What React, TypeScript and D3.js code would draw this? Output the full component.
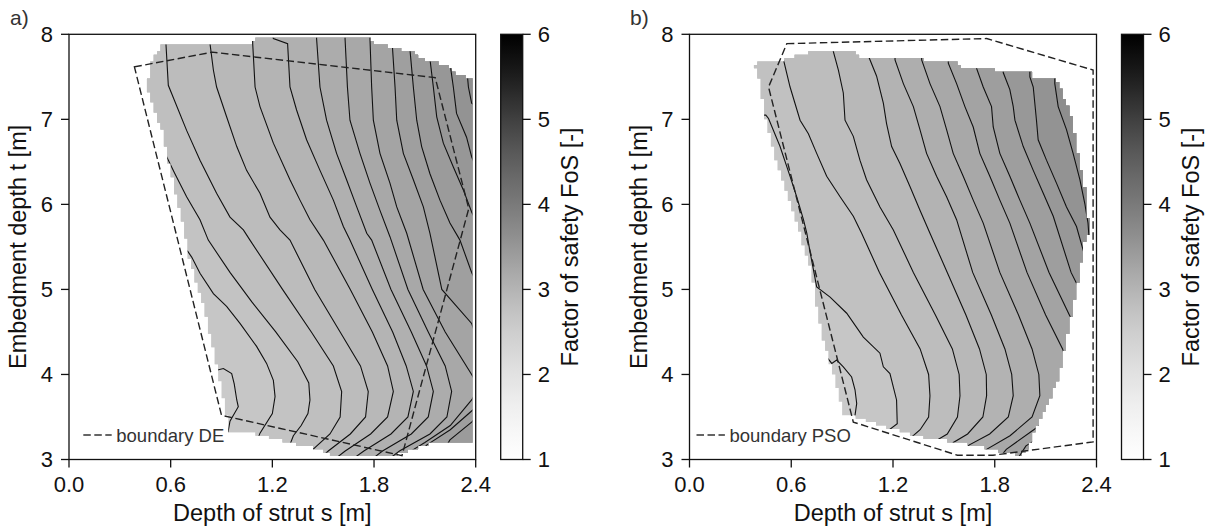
import React from 'react';
import * as d3 from 'd3';

type P = [number, number];

const FONT = "'Liberation Sans', Arial, Helvetica, sans-serif";
const W = 1213;
const H = 531;
const Y_TOP = 34.3;
const Y_BOT = 459.5;

const S_TICKS = [0.0, 0.6, 1.2, 1.8, 2.4];
const T_TICKS = [3, 4, 5, 6, 7, 8];
const CB_TICKS = [1, 2, 3, 4, 5, 6];

// ---------- panel a (DE) ----------
const regionA: P[] = [
  [0.556, 7.89], [1.088, 7.89], [1.1, 7.95], [1.776, 7.95], [1.8, 7.9], [1.85, 7.87], [1.95, 7.82],
  [2.03, 7.78], [2.07, 7.71], [2.17, 7.66], [2.24, 7.62], [2.29, 7.54], [2.376, 7.48],
  [2.376, 3.21], [2.17, 3.21], [2.09, 3.17], [1.99, 3.09], [1.914, 3.05], [1.56, 3.05], [1.5, 3.11],
  [1.363, 3.17], [1.245, 3.23], [1.108, 3.3], [0.95, 3.34],
  [0.921, 3.62], [0.881, 4.01], [0.842, 4.4], [0.793, 4.8], [0.735, 5.19], [0.71, 5.38], [0.68, 5.7],
  [0.645, 6.0], [0.6, 6.4], [0.55, 6.87], [0.49, 7.19], [0.464, 7.38], [0.48, 7.62], [0.52, 7.78],
];
const boundaryDE: P[] = [
  [0.386, 7.617], [0.845, 7.79], [2.161, 7.49], [2.359, 5.95], [1.965, 3.045], [0.9, 3.52],
];
const levelsA = [2.62, 2.69, 2.76, 2.83, 2.9, 2.97, 3.04, 3.11, 3.18, 3.25, 3.32, 3.39, 3.46, 3.53, 3.6];
const linesA: P[][] = [
  [[-0.5, 8.1], [-0.5, 4.05], [0.871, 4.05], [0.911, 4.07], [0.96, 4.01], [0.975, 3.89], [0.99, 3.7], [0.999, 3.62], [0.97, 3.52], [0.95, 3.45], [0.9, 2.9]],
  [[-0.5, 8.1], [-0.5, 5.45], [0.7, 5.45], [0.724, 5.38], [0.773, 5.19], [0.852, 4.95], [0.93, 4.8], [1.009, 4.6], [1.107, 4.33], [1.166, 4.13], [1.206, 3.93], [1.216, 3.74], [1.2, 3.54], [1.127, 3.31], [1.05, 2.9]],
  [[-0.5, 8.1], [-0.5, 6.7], [0.54, 6.7], [0.557, 6.64], [0.625, 6.36], [0.694, 6.09], [0.773, 5.82], [0.822, 5.58], [0.95, 5.2], [1.08, 4.85], [1.22, 4.5], [1.35, 4.15], [1.415, 3.9], [1.422, 3.7], [1.41, 3.54], [1.37, 3.4], [1.324, 3.28], [1.25, 2.9]],
  [[0.572, 8.1], [0.572, 7.89], [0.586, 7.4], [0.694, 6.87], [0.773, 6.52], [0.871, 6.13], [0.95, 5.85], [1.029, 5.7], [1.068, 5.58], [1.26, 5.0], [1.43, 4.5], [1.56, 4.1], [1.609, 3.8], [1.6, 3.5], [1.54, 3.3], [1.44, 3.12], [1.35, 2.9]],
  [[0.832, 8.1], [0.832, 7.89], [0.852, 7.58], [0.871, 7.38], [0.93, 7.03], [0.99, 6.68], [1.048, 6.4], [1.127, 6.13], [1.186, 5.85], [1.245, 5.7], [1.304, 5.58], [1.45, 5.0], [1.6, 4.5], [1.72, 4.1], [1.766, 3.8], [1.75, 3.5], [1.66, 3.3], [1.53, 3.1], [1.42, 2.9]],
  [[1.084, 8.1], [1.084, 7.89], [1.098, 7.38], [1.127, 7.15], [1.206, 6.72], [1.304, 6.29], [1.363, 6.05], [1.422, 5.82], [1.501, 5.58], [1.66, 5.0], [1.79, 4.5], [1.88, 4.1], [1.914, 3.8], [1.88, 3.5], [1.78, 3.3], [1.63, 3.1], [1.5, 2.9]],
  [[1.19, 8.1], [1.206, 7.95], [1.29, 7.89], [1.304, 7.38], [1.343, 7.11], [1.402, 6.76], [1.481, 6.4], [1.56, 6.05], [1.619, 5.74], [1.658, 5.58], [1.79, 5.0], [1.91, 4.5], [1.99, 4.1], [2.032, 3.8], [2.0, 3.5], [1.9, 3.3], [1.74, 3.1], [1.6, 2.9]],
  [[1.461, 8.1], [1.461, 7.95], [1.481, 7.38], [1.52, 6.99], [1.579, 6.6], [1.638, 6.29], [1.698, 5.97], [1.757, 5.66], [1.786, 5.58], [1.9, 5.0], [2.02, 4.5], [2.11, 4.1], [2.15, 3.8], [2.12, 3.5], [2.02, 3.3], [1.85, 3.1], [1.72, 2.9]],
  [[1.629, 8.1], [1.629, 7.95], [1.643, 7.38], [1.658, 6.99], [1.717, 6.6], [1.776, 6.25], [1.835, 5.93], [1.894, 5.62], [2.0, 5.0], [2.12, 4.5], [2.22, 4.1], [2.258, 3.8], [2.23, 3.5], [2.13, 3.3], [1.95, 3.1], [1.82, 2.9]],
  [[1.776, 8.1], [1.776, 7.95], [1.786, 7.38], [1.796, 6.99], [1.835, 6.6], [1.894, 6.25], [1.934, 5.97], [1.993, 5.66], [2.09, 5.0], [2.22, 4.5], [2.376, 4.0], [2.42, 3.85], [2.376, 3.7], [2.25, 3.4], [2.1, 3.2], [2.01, 3.09], [1.9, 2.9]],
  [[1.908, 8.1], [1.908, 7.87], [1.924, 7.38], [1.934, 6.99], [1.973, 6.6], [2.032, 6.29], [2.091, 5.97], [2.13, 5.66], [2.2, 5.0], [2.376, 4.6], [2.48, 4.0], [2.45, 3.7], [2.376, 3.57], [2.25, 3.35], [2.11, 3.17], [2.0, 2.9]],
  [[2.012, 8.1], [2.012, 7.82], [2.032, 7.38], [2.052, 6.99], [2.081, 6.68], [2.13, 6.36], [2.189, 6.05], [2.248, 5.78], [2.307, 5.58], [2.376, 5.2], [2.55, 4.5], [2.55, 3.8], [2.376, 3.44], [2.248, 3.23], [2.15, 2.9]],
  [[2.13, 8.1], [2.13, 7.71], [2.15, 7.38], [2.17, 7.03], [2.209, 6.72], [2.268, 6.44], [2.327, 6.17], [2.376, 5.91], [2.6, 5.0], [2.64, 4.0], [2.62, 3.6], [2.6, 2.9]],
  [[2.248, 8.1], [2.248, 7.66], [2.268, 7.38], [2.287, 7.07], [2.346, 6.79], [2.376, 6.56], [2.7, 5.0], [2.75, 3.5], [2.7, 2.9]],
  [[2.347, 8.1], [2.347, 7.6], [2.357, 7.38], [2.376, 7.19], [2.85, 6.5], [2.85, 2.9]],
];

// ---------- panel b (PSO) ----------
const regionB: P[] = [
  [0.388, 7.62], [0.4, 7.66], [0.55, 7.66], [0.58, 7.72], [0.75, 7.8], [0.966, 7.8], [1.0, 7.74],
  [1.123, 7.7], [1.379, 7.7], [1.4, 7.66], [1.575, 7.66], [1.6, 7.6], [1.79, 7.6], [1.81, 7.55],
  [2.007, 7.55], [2.03, 7.5], [2.154, 7.5], [2.18, 7.4], [2.253, 7.03], [2.29, 6.6], [2.331, 6.21],
  [2.35, 5.82], [2.35, 5.66], [2.322, 5.5], [2.302, 5.19], [2.262, 4.8], [2.223, 4.4], [2.184, 4.01],
  [2.125, 3.7], [2.066, 3.46], [2.027, 3.3], [1.988, 3.11], [1.95, 3.05], [1.909, 3.07], [1.79, 3.11],
  [1.673, 3.17], [1.575, 3.21], [1.457, 3.23], [1.359, 3.27], [1.241, 3.34], [1.123, 3.4],
  [0.986, 3.5], [0.907, 3.54], [0.888, 3.7], [0.848, 4.01], [0.79, 4.4], [0.75, 4.8], [0.721, 5.19],
  [0.664, 5.58], [0.6, 6.0], [0.516, 6.49], [0.446, 7.05], [0.41, 7.49],
];
const boundaryPSO: P[] = [
  [0.574, 7.89], [1.752, 7.95], [2.38, 7.58], [2.38, 3.207], [1.79, 3.05], [1.58, 3.05], [0.966, 3.44], [0.466, 7.38],
];
const levelsB = [2.62, 2.71, 2.8, 2.89, 2.98, 3.07, 3.16, 3.25, 3.34, 3.43, 3.52, 3.61];
const linesB: P[][] = [
  [[-0.5, 8.1], [-0.5, 4.23], [0.799, 4.23], [0.839, 4.13], [0.868, 4.17], [0.907, 4.09], [0.956, 3.97], [0.976, 3.82], [0.986, 3.66], [0.976, 3.52], [0.95, 3.4], [0.9, 2.9]],
  [[-0.5, 8.1], [-0.5, 7.05], [0.45, 7.05], [0.466, 7.01], [0.534, 6.68], [0.593, 6.33], [0.632, 6.09], [0.672, 5.82], [0.692, 5.66], [0.71, 5.45], [0.75, 5.03], [0.829, 4.91], [0.927, 4.72], [1.025, 4.44], [1.123, 4.25], [1.143, 4.09], [1.182, 4.01], [1.202, 3.85], [1.221, 3.7], [1.225, 3.42], [1.152, 3.31], [1.05, 2.9]],
  [[0.553, 8.1], [0.553, 7.71], [0.593, 7.38], [0.652, 6.99], [0.701, 6.83], [0.75, 6.6], [0.809, 6.33], [0.888, 6.09], [0.966, 5.86], [1.015, 5.66], [1.12, 5.2], [1.25, 4.7], [1.36, 4.3], [1.41, 4.0], [1.418, 3.75], [1.41, 3.5], [1.36, 3.35], [1.313, 3.27], [1.25, 2.9]],
  [[0.848, 8.1], [0.848, 7.8], [0.878, 7.58], [0.907, 7.31], [0.917, 6.99], [0.966, 6.8], [1.005, 6.52], [1.044, 6.29], [1.123, 5.97], [1.202, 5.7], [1.32, 5.2], [1.45, 4.7], [1.55, 4.3], [1.59, 4.0], [1.595, 3.75], [1.58, 3.5], [1.52, 3.3], [1.452, 3.22], [1.38, 2.9]],
  [[1.054, 8.1], [1.054, 7.75], [1.103, 7.51], [1.143, 7.19], [1.162, 6.95], [1.192, 6.68], [1.241, 6.48], [1.3, 6.21], [1.359, 5.93], [1.418, 5.66], [1.52, 5.2], [1.63, 4.7], [1.71, 4.3], [1.75, 4.0], [1.752, 3.75], [1.73, 3.5], [1.64, 3.3], [1.556, 3.2], [1.48, 2.9]],
  [[1.212, 8.1], [1.212, 7.7], [1.261, 7.42], [1.32, 7.15], [1.359, 6.88], [1.398, 6.6], [1.457, 6.33], [1.516, 6.09], [1.575, 5.82], [1.67, 5.2], [1.78, 4.7], [1.86, 4.3], [1.9, 4.0], [1.909, 3.75], [1.88, 3.5], [1.77, 3.3], [1.648, 3.17], [1.57, 2.9]],
  [[1.369, 8.1], [1.369, 7.7], [1.418, 7.42], [1.477, 7.15], [1.516, 6.88], [1.555, 6.6], [1.614, 6.33], [1.673, 6.05], [1.732, 5.78], [1.83, 5.2], [1.94, 4.7], [2.02, 4.3], [2.06, 4.0], [2.066, 3.75], [2.02, 3.5], [1.89, 3.28], [1.752, 3.12], [1.67, 2.9]],
  [[1.526, 8.1], [1.526, 7.66], [1.575, 7.42], [1.624, 7.15], [1.673, 6.91], [1.712, 6.6], [1.771, 6.33], [1.83, 6.05], [1.889, 5.78], [1.99, 5.2], [2.1, 4.7], [2.2, 4.3], [2.26, 3.9], [2.2, 3.6], [2.03, 3.35], [1.868, 3.12], [1.78, 2.9]],
  [[1.693, 8.1], [1.693, 7.6], [1.732, 7.38], [1.781, 7.15], [1.791, 6.91], [1.83, 6.6], [1.889, 6.33], [1.948, 6.05], [2.007, 5.78], [2.12, 5.2], [2.24, 4.7], [2.34, 4.3], [2.4, 3.9], [2.32, 3.6], [2.14, 3.35], [1.984, 3.16], [1.9, 2.9]],
  [[1.85, 8.1], [1.85, 7.55], [1.889, 7.35], [1.909, 7.15], [1.919, 6.99], [1.968, 6.68], [2.027, 6.4], [2.086, 6.13], [2.145, 5.86], [2.25, 5.2], [2.4, 4.6], [2.5, 4.0], [2.45, 3.6], [2.25, 3.35], [2.04, 3.2], [1.98, 2.9]],
  [[2.007, 8.1], [2.007, 7.5], [2.027, 7.38], [2.046, 6.99], [2.056, 6.76], [2.105, 6.52], [2.164, 6.25], [2.223, 5.97], [2.282, 5.74], [2.33, 5.4], [2.55, 4.5], [2.6, 3.5], [2.4, 2.9]],
  [[2.154, 8.1], [2.154, 7.42], [2.174, 7.15], [2.223, 6.88], [2.262, 6.6], [2.302, 6.29], [2.331, 6.01], [2.35, 5.78], [2.36, 5.5], [2.7, 4.5], [2.7, 2.9]],
];

// mask grid resolution (cells of the evaluated design grid)
const GRID_COLS = 120;
const GRID_ROWS = 125;

const fosColor = (v: number) => d3.interpolateGreys(Math.max(0, Math.min(1, (v - 1) / 5)));

// raster the region outline onto the design grid -> one staircase outline
function maskOutline(region: P[]): P[] {
  const ds = 2.4 / GRID_COLS;
  const dt = 5 / GRID_ROWS;
  const rows: { s0: number; s1: number; t0: number; t1: number }[] = [];
  for (let r = GRID_ROWS - 1; r >= 0; r--) {
    const t0 = 3 + r * dt;
    const tc = t0 + dt / 2;
    let first = -1;
    let last = -1;
    for (let c = 0; c < GRID_COLS; c++) {
      if (d3.polygonContains(region, [c * ds + ds / 2, tc])) {
        if (first < 0) first = c;
        last = c;
      }
    }
    if (first >= 0) rows.push({ s0: first * ds, s1: (last + 1) * ds, t0, t1: t0 + dt });
  }
  const right: P[] = [];
  const left: P[] = [];
  rows.forEach((rw) => {
    right.push([rw.s1, rw.t1], [rw.s1, rw.t0]);
    left.push([rw.s0, rw.t1], [rw.s0, rw.t0]);
  });
  return [...right, ...left.reverse()];
}

type PanelProps = {
  id: string;
  x0: number;
  x1: number;
  cbX: number;
  region: P[];
  boundary: P[];
  lines: P[][];
  levels: number[];
  legendX: number;
  legendLabel: string;
  tag: string;
  tagX: number;
  ylabelX: number;
  cblabelX: number;
};

const DASH = '7.5,3.5';

function Panel(p: PanelProps) {
  const x = d3.scaleLinear().domain([0, 2.4]).range([p.x0, p.x1]);
  const y = d3.scaleLinear().domain([3, 8]).range([Y_BOT, Y_TOP]);
  const toPx = (q: P): [number, number] => [x(q[0]), y(q[1])];
  const path = d3.line();
  const maskD = path(maskOutline(p.region).map(toPx)) + 'Z';
  const step = p.levels[1] - p.levels[0];
  const fills = p.lines.map((ln, k) => {
    const pts = ln.map(toPx);
    const last = pts[pts.length - 1];
    const first = pts[0];
    pts.push([x(3.5), last[1]], [x(3.5), first[1]]);
    const lo = p.levels[k];
    const hi = k + 1 < p.levels.length ? p.levels[k + 1] : lo + step;
    return { d: path(pts) + 'Z', fill: fosColor((lo + hi) / 2) };
  });
  const cb = d3.scaleLinear().domain([1, 6]).range([Y_BOT, Y_TOP]);
  const cbW = 22;
  const gradId = `grad-${p.id}`;
  const clipId = `clip-${p.id}`;
  const stops = d3.range(0, 41).map((i) => i / 40);
  const yMid = (Y_TOP + Y_BOT) / 2;
  return (
    <g>
      <defs>
        <clipPath id={clipId}>
          <path d={maskD} />
        </clipPath>
        <linearGradient id={gradId} x1="0" y1="1" x2="0" y2="0">
          {stops.map((f) => (
            <stop key={f} offset={f} stopColor={fosColor(1 + 5 * f)} />
          ))}
        </linearGradient>
      </defs>
      <g clipPath={`url(#${clipId})`}>
        <rect x={p.x0} y={Y_TOP} width={p.x1 - p.x0} height={Y_BOT - Y_TOP} fill={fosColor(p.levels[0] - step / 2)} />
        {fills.map((f, i) => (
          <path key={i} d={f.d} fill={f.fill} />
        ))}
        {p.lines.map((ln, i) => (
          <path key={i} d={path(ln.map(toPx)) || ''} fill="none" stroke="#111" strokeWidth={1.1} />
        ))}
      </g>
      <path
        d={path(p.boundary.map(toPx)) + 'Z'}
        fill="none"
        stroke="#222"
        strokeWidth={1.4}
        strokeDasharray={DASH}
      />
      <rect x={p.x0} y={Y_TOP} width={p.x1 - p.x0} height={Y_BOT - Y_TOP} fill="none" stroke="#111" strokeWidth={1.3} />
      {S_TICKS.map((s) => (
        <g key={s}>
          <line x1={x(s)} x2={x(s)} y1={Y_BOT} y2={Y_BOT + 8} stroke="#111" strokeWidth={1.3} />
          <text x={x(s)} y={492.3} textAnchor="middle" fontSize={22} fill="#111">
            {s.toFixed(1)}
          </text>
        </g>
      ))}
      {T_TICKS.map((t) => (
        <g key={t}>
          <line x1={p.x0 - 8} x2={p.x0} y1={y(t)} y2={y(t)} stroke="#111" strokeWidth={1.3} />
          <text x={p.x0 - 16} y={y(t) + 7.9} textAnchor="end" fontSize={22} fill="#111">
            {t}
          </text>
        </g>
      ))}
      <text x={(p.x0 + p.x1) / 2} y={521} textAnchor="middle" fontSize={23.5} fill="#111">
        Depth of strut s [m]
      </text>
      <text transform={`translate(${p.ylabelX},${yMid}) rotate(-90)`} textAnchor="middle" fontSize={23.5} fill="#111">
        Embedment depth t [m]
      </text>
      <text x={p.tagX} y={25} fontSize={21} fill="#333">
        {p.tag}
      </text>
      <line x1={p.legendX} x2={p.legendX + 28.4} y1={435} y2={435} stroke="#333" strokeWidth={1.4} strokeDasharray={DASH} />
      <text x={p.legendX + 33} y={441.5} fontSize={18.5} fill="#333">
        {p.legendLabel}
      </text>
      <rect x={p.cbX} y={Y_TOP} width={cbW} height={Y_BOT - Y_TOP} fill={`url(#${gradId})`} stroke="#111" strokeWidth={1.3} />
      {CB_TICKS.map((v) => (
        <g key={v}>
          <line x1={p.cbX + cbW} x2={p.cbX + cbW + 8} y1={cb(v)} y2={cb(v)} stroke="#111" strokeWidth={1.3} />
          <text x={p.cbX + cbW + 15} y={cb(v) + 7.9} fontSize={22} fill="#111">
            {v}
          </text>
        </g>
      ))}
      <text transform={`translate(${p.cblabelX},${yMid}) rotate(-90)`} textAnchor="middle" fontSize={23.5} fill="#111">
        Factor of safety FoS [-]
      </text>
    </g>
  );
}

export default function App() {
  return (
    <svg
      width={W}
      height={H}
      viewBox={`0 0 ${W} ${H}`}
      style={{ position: 'absolute', left: 0, top: 0, background: '#fff' }}
      fontFamily={FONT}
    >
      <rect width={W} height={H} fill="#fff" />
      <Panel
        id="a"
        x0={69}
        x1={475.7}
        cbX={500.7}
        region={regionA}
        boundary={boundaryDE}
        lines={linesA}
        levels={levelsA}
        legendX={83.3}
        legendLabel="boundary DE"
        tag="a)"
        tagX={10}
        ylabelX={26}
        cblabelX={578}
      />
      <Panel
        id="b"
        x0={689.5}
        x1={1096.5}
        cbX={1121.5}
        region={regionB}
        boundary={boundaryPSO}
        lines={linesB}
        levels={levelsB}
        legendX={696.5}
        legendLabel="boundary PSO"
        tag="b)"
        tagX={630}
        ylabelX={646.5}
        cblabelX={1199}
      />
    </svg>
  );
}
